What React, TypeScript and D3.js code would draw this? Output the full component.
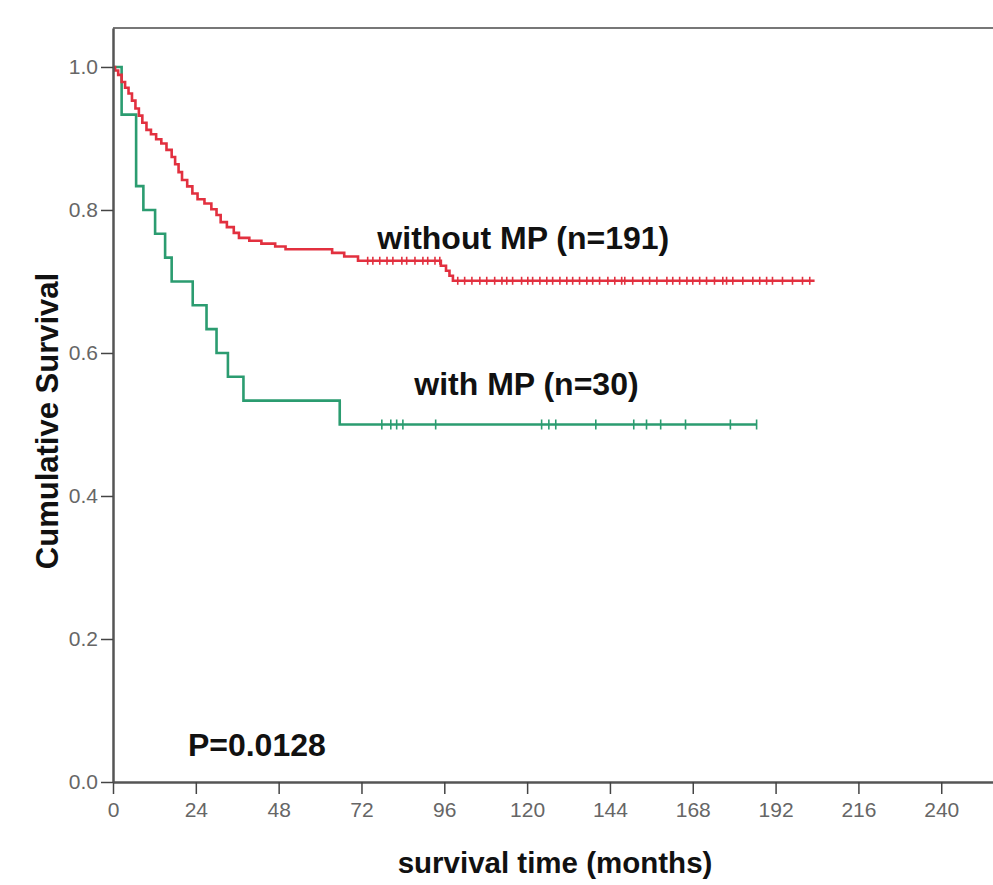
import React, { useEffect, useRef } from "react";
import * as d3 from "d3";

// axis ticks
const xTicks = [0, 24, 48, 72, 96, 120, 144, 168, 192, 216, 240];
const yTicks = [0, 0.2, 0.4, 0.6, 0.8, 1.0];

// without MP (n=191): step times (months) and survival after each step
const withoutTimes = [
  0, 0.6, 1.5, 2.5, 3.5, 4.5, 5.5, 6.5, 7.5, 8.5, 9.7, 11, 12.5, 14, 15.5, 17,
  18, 19, 20, 21.5, 23, 24.5, 26.5, 28.5, 30, 31.2, 33, 35, 36.5, 39.5, 43, 47,
  50, 63.5, 67, 71, 95, 96.5, 97.5, 98.5,
];
const withoutSurv = [
  1, 0.995, 0.989, 0.979, 0.971, 0.963, 0.953, 0.942, 0.932, 0.922, 0.912,
  0.906, 0.899, 0.893, 0.884, 0.874, 0.864, 0.853, 0.842, 0.833, 0.823, 0.815,
  0.809, 0.801, 0.793, 0.783, 0.776, 0.768, 0.761, 0.757, 0.753, 0.749, 0.745,
  0.74, 0.735, 0.729, 0.722, 0.715, 0.708, 0.701,
];
const withoutEnd = 203.3;
const withoutCensored = [
  73.8, 75.3, 77.3, 79.4, 81.1, 83.7, 85.1, 87.5, 89.8, 91.2, 93.3, 94.7, 99.9,
  101.9, 104.0, 106.3, 108.3, 110.6, 112.7, 114.1, 115.8, 118.4, 120.2, 121.6,
  123.7, 125.7, 127.4, 129.5, 131.5, 133.2, 135.2, 137.3, 139.0, 141.0, 143.4,
  145.4, 147.4, 148.3, 150.6, 153.5, 155.5, 157.6, 160.5, 162.2, 164.2, 166.3,
  168.0, 170.0, 172.0, 174.3, 176.7, 177.8, 179.6, 182.5, 185.4, 187.4, 189.4,
  191.1, 194.0, 196.9, 199.8, 201.9,
];

// with MP (n=30)
const withTimes = [0, 2.5, 6.7, 8.8, 12.2, 15.1, 17.0, 23.1, 27.1, 30.0, 33.3, 37.8, 65.7];
const withSurv = [
  1, 0.9333, 0.8333, 0.8, 0.7667, 0.7333, 0.7, 0.6667, 0.6333, 0.6, 0.5667,
  0.5333, 0.5,
];
const withEnd = 186.5;
const withCensored = [
  77.9, 80.5, 82.2, 84.0, 93.5, 124.2, 126.3, 128.3, 139.9, 150.9, 154.6, 158.7,
  165.9, 178.9, 186.5,
];

// annotations: text, anchor time, anchor survival
const noteTexts = ["without MP (n=191)", "with MP (n=30)", "P=0.0128"];
const noteTimes = [76.6, 87.3, 21.7];
const noteSurv = [0.745, 0.541, 0.036];

const RED = "#e2303f";
const GREEN = "#2b9c70";
const FONT = "'Liberation Sans', Arial, sans-serif";

function SurvivalChart() {
  const svgRef = useRef<SVGSVGElement | null>(null);

  useEffect(() => {
    const width = 993;
    const height = 885;

    const svg = d3.select(svgRef.current);
    svg.selectAll("*").remove();
    svg.attr("width", width).attr("height", height);

    const x = d3.scaleLinear().domain([0, 255]).range([113, 993]);
    const y = d3.scaleLinear().domain([0, 1.0545]).range([782, 28]);

    // top frame line
    svg
      .append("line")
      .attr("x1", x(0))
      .attr("x2", x(255))
      .attr("y1", y(1.0545))
      .attr("y2", y(1.0545))
      .attr("stroke", "#777")
      .attr("stroke-width", 2);

    const stepLine = d3
      .line<[number, number]>()
      .x((d) => x(d[0]))
      .y((d) => y(d[1]))
      .curve(d3.curveStepAfter);

    const series = [
      { times: withTimes, surv: withSurv, end: withEnd, cens: withCensored, color: GREEN, tick: 5 },
      { times: withoutTimes, surv: withoutSurv, end: withoutEnd, cens: withoutCensored, color: RED, tick: 4 },
    ];

    series.forEach((s) => {
      const pts: [number, number][] = s.times.map((t, i) => [t, s.surv[i]]);
      pts.push([s.end, s.surv[s.surv.length - 1]]);

      svg
        .append("path")
        .attr("d", stepLine(pts))
        .attr("fill", "none")
        .attr("stroke", s.color)
        .attr("stroke-width", 2.6);

      const survAt = (t: number) => {
        const i = d3.bisectRight(s.times, t) - 1;
        return s.surv[Math.max(0, i)];
      };

      svg
        .append("g")
        .selectAll("line")
        .data(s.cens)
        .enter()
        .append("line")
        .attr("x1", (d) => x(d))
        .attr("x2", (d) => x(d))
        .attr("y1", (d) => y(survAt(d)) - s.tick)
        .attr("y2", (d) => y(survAt(d)) + s.tick)
        .attr("stroke", s.color)
        .attr("stroke-width", 1.6);
    });

    // axes
    const xAxis = svg
      .append("g")
      .attr("transform", `translate(0,${y(0)})`)
      .call(
        d3
          .axisBottom(x)
          .tickValues(xTicks)
          .tickSize(12)
          .tickSizeOuter(0)
          .tickPadding(8)
      );

    const yAxis = svg
      .append("g")
      .attr("transform", `translate(${x(0)},0)`)
      .call(
        d3
          .axisLeft(y)
          .tickValues(yTicks)
          .tickSize(12)
          .tickSizeOuter(0)
          .tickPadding(3)
          .tickFormat(d3.format(".1f"))
      );

    [xAxis, yAxis].forEach((g) => {
      g.select(".domain").attr("stroke", "#555").attr("stroke-width", 2.5);
      g.selectAll(".tick line").attr("stroke", "#444").attr("stroke-width", 1.5);
      g.selectAll(".tick text")
        .attr("fill", "#666")
        .style("font-family", FONT)
        .style("font-size", "21px");
    });

    // axis titles
    svg
      .append("text")
      .attr("x", 555)
      .attr("y", 873)
      .attr("text-anchor", "middle")
      .style("font-family", FONT)
      .style("font-size", "29.5px")
      .style("font-weight", "bold")
      .attr("fill", "#111")
      .text("survival time (months)");

    svg
      .append("text")
      .attr("transform", "rotate(-90)")
      .attr("x", -421)
      .attr("y", 58)
      .attr("text-anchor", "middle")
      .style("font-family", FONT)
      .style("font-size", "31px")
      .style("font-weight", "bold")
      .attr("fill", "#111")
      .text("Cumulative Survival");

    // annotations
    svg
      .append("g")
      .selectAll("text")
      .data(noteTexts)
      .enter()
      .append("text")
      .attr("x", (d, i) => x(noteTimes[i]))
      .attr("y", (d, i) => y(noteSurv[i]))
      .style("font-family", FONT)
      .style("font-size", "32px")
      .style("font-weight", "bold")
      .attr("fill", "#111")
      .text((d) => d);
  }, []);

  return (
    <svg
      ref={svgRef}
      style={{ position: "absolute", left: 0, top: 0, background: "#fff" }}
    ></svg>
  );
}

export default function App() {
  return <SurvivalChart />;
}
